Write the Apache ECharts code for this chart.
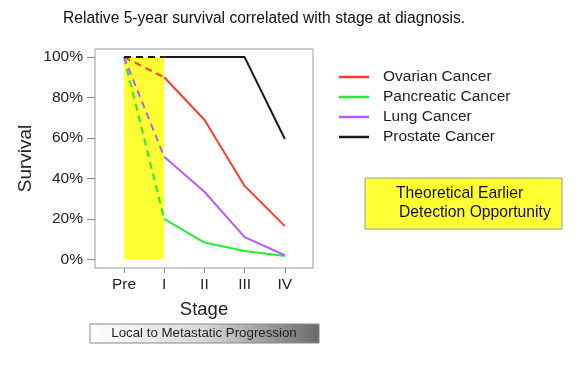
<!DOCTYPE html>
<html>
<head>
<meta charset="utf-8">
<script src="https://cdn.jsdelivr.net/npm/echarts@6/dist/echarts.min.js"></script>
<style>html,body{margin:0;padding:0;background:#fff}#c{width:578px;height:365px}</style>
</head>
<body>
<div id="c"></div>
<script>
const stages = ['Pre', 'I', 'II', 'III', 'IV'];
const yTicks = [0, 20, 40, 60, 80, 100];
const seriesNames = ['Ovarian Cancer', 'Pancreatic Cancer', 'Lung Cancer', 'Prostate Cancer'];
const ovarian = [100, 90, 69, 36.3, 16.4];
const pancreatic = [100, 20, 8.3, 4.1, 1.6];
const lung = [100, 50.7, 33.4, 11, 2];
const prostate = [100, 100, 100, 100, 59.5];
const colors = ['#ff3b30', '#22ee33', '#b45cff', '#1a1a1a'];

const allData = [ovarian, pancreatic, lung, prostate];
const chart = echarts.init(document.getElementById('c'));
const series = [{
  type: 'line', data: [], z: 1, silent: true,
  markArea: { silent: true, itemStyle: { color: '#ffff33', opacity: 1 },
    data: [[{ coord: [0, 0] }, { coord: [1, 100] }]] }
}];
allData.forEach((arr, i) => {
  series.push({
    name: seriesNames[i] + ' early', type: 'line', symbol: 'none', z: 3,
    data: [[0, arr[0]], [1, arr[1]]],
    lineStyle: { color: colors[i], width: 2, type: [7, 5] }
  });
  series.push({
    name: seriesNames[i], type: 'line', symbol: 'none', z: 3,
    data: arr.slice(1).map((v, j) => [j + 1, v]),
    itemStyle: { color: colors[i] },
    lineStyle: { color: colors[i], width: 2 }
  });
});

chart.setOption({
  animation: false,
  title: { text: 'Relative 5-year survival correlated with stage at diagnosis.', left: 58, top: 6,
    textStyle: { fontFamily: 'Liberation Sans', fontSize: 15.6, fontWeight: 'normal', color: '#111' } },
  grid: { left: 95, right: 265, top: 49, bottom: 97, show: true, borderColor: '#999', borderWidth: 1 },
  xAxis: {
    type: 'value', min: -0.72, max: 4.7,
    name: 'Stage', nameLocation: 'middle', nameGap: 32,
    nameTextStyle: { fontFamily: 'Liberation Sans', fontSize: 18.5, color: '#222' },
    axisLine: { show: false, onZero: false }, splitLine: { show: false },
    axisTick: { show: true, length: 5, lineStyle: { color: '#888' }, customValues: [0, 1, 2, 3, 4] },
    axisLabel: { customValues: [0, 1, 2, 3, 4], formatter: v => stages[v], margin: 9,
      fontFamily: 'Liberation Sans', fontSize: 15.5, color: '#222' }
  },
  yAxis: {
    type: 'value', min: -4.3, max: 104,
    name: 'Survival', nameLocation: 'middle', nameGap: 60, nameRotate: 90,
    nameTextStyle: { fontFamily: 'Liberation Sans', fontSize: 19, color: '#222' },
    axisLine: { show: false, onZero: false }, splitLine: { show: false },
    axisTick: { show: true, length: 8, lineStyle: { color: '#888' }, customValues: yTicks },
    axisLabel: { customValues: yTicks, formatter: v => v + '%', margin: 12,
      fontFamily: 'Liberation Sans', fontSize: 15.5, color: '#222' }
  },
  legend: {
    data: seriesNames, orient: 'vertical', left: 334, top: 64,
    icon: 'rect', itemWidth: 30, itemHeight: 2.5, itemGap: 4,
    textStyle: { fontFamily: 'Liberation Sans', fontSize: 15.5, color: '#222', padding: [0, 0, 0, 9] }
  },
  series: series,
  graphic: [
    { type: 'rect', shape: { x: 365, y: 178, width: 197, height: 51 },
      style: { fill: '#ffff33', stroke: '#999', lineWidth: 1 } },
    { type: 'text', x: 396, y: 194, style: { text: 'Theoretical Earlier', fontFamily: 'Liberation Sans', fontSize: 15.7, fill: '#111', verticalAlign: 'middle' } },
    { type: 'text', x: 399, y: 213, style: { text: 'Detection Opportunity', fontFamily: 'Liberation Sans', fontSize: 15.7, fill: '#111', verticalAlign: 'middle' } },
    { type: 'rect', shape: { x: 90, y: 324, width: 229, height: 19 },
      style: { fill: new echarts.graphic.LinearGradient(0, 0, 1, 0, [{ offset: 0, color: '#ffffff' }, { offset: 0.5, color: '#d8d8d8' }, { offset: 1, color: '#6a6a6a' }]), stroke: '#888', lineWidth: 1 } },
    { type: 'text', x: 204, y: 333.5, style: { text: 'Local to Metastatic Progression', fontFamily: 'Liberation Sans', fontSize: 13.3, fill: '#222', align: 'center', verticalAlign: 'middle' } }
  ]
});
</script>
</body>
</html>
